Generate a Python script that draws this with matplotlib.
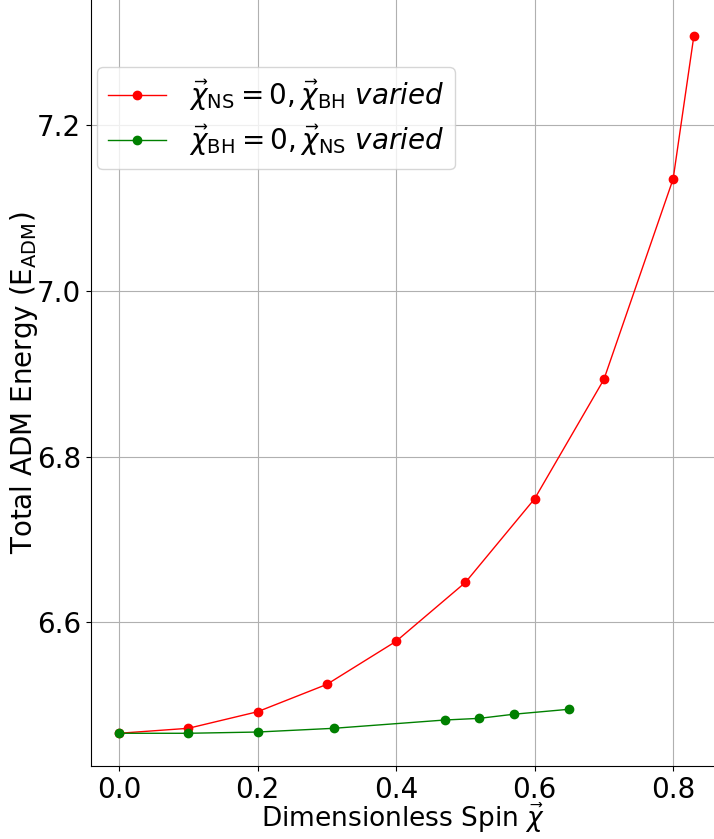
import matplotlib.pyplot as plt

# spin values and ADM energies
bh_spin = [0.0, 0.1, 0.2, 0.3, 0.4, 0.5, 0.6, 0.7, 0.8, 0.83]
bh_energy = [6.466, 6.472, 6.492, 6.525, 6.577, 6.648, 6.749, 6.893, 7.135, 7.308]

ns_spin = [0.0, 0.1, 0.2, 0.31, 0.47, 0.52, 0.57, 0.65]
ns_energy = [6.466, 6.466, 6.4675, 6.472, 6.482, 6.484, 6.489, 6.495]

xticks = [0.0, 0.2, 0.4, 0.6, 0.8]
yticks = [6.6, 6.8, 7.0, 7.2]


def main():
    fig = plt.figure(figsize=(7.14, 8.39), dpi=100)
    ax = fig.add_axes([0.1275, 0.087, 0.8725, 0.913])

    ax.plot(bh_spin, bh_energy, color='red', lw=1, marker='o', ms=6,
            label=r'$\vec{\chi}_{\rm NS}=0, \vec{\chi}_{\rm BH}$ $varied$')
    ax.plot(ns_spin, ns_energy, color='green', lw=1, marker='o', ms=6,
            label=r'$\vec{\chi}_{\rm BH}=0, \vec{\chi}_{\rm NS}$ $varied$')

    ax.set_xlim(-0.0404, 0.859)
    ax.set_ylim(6.4265, 7.351)
    ax.set_xticks(xticks)
    ax.set_yticks(yticks)
    ax.tick_params(labelsize=20)
    ax.grid(True, color='#b0b0b0', lw=0.8)
    ax.spines['top'].set_visible(False)
    ax.spines['right'].set_visible(False)

    ax.set_xlabel(r'Dimensionless Spin $\vec{\chi}$', fontsize=19)
    ax.set_ylabel(r'Total ADM Energy (E$_{\rm ADM}$)', fontsize=20)
    ax.xaxis.set_label_coords(0.5, -0.046)
    ax.yaxis.set_label_coords(-0.082, 0.5)

    ax.legend(loc='upper left', bbox_to_anchor=(0.0096, 0.9125),
              borderaxespad=0, fontsize=20, labelspacing=0.35,
              borderpad=0.4, handlelength=2.1)

    fig.savefig('out.png', dpi=100)


if __name__ == "__main__":
    main()
